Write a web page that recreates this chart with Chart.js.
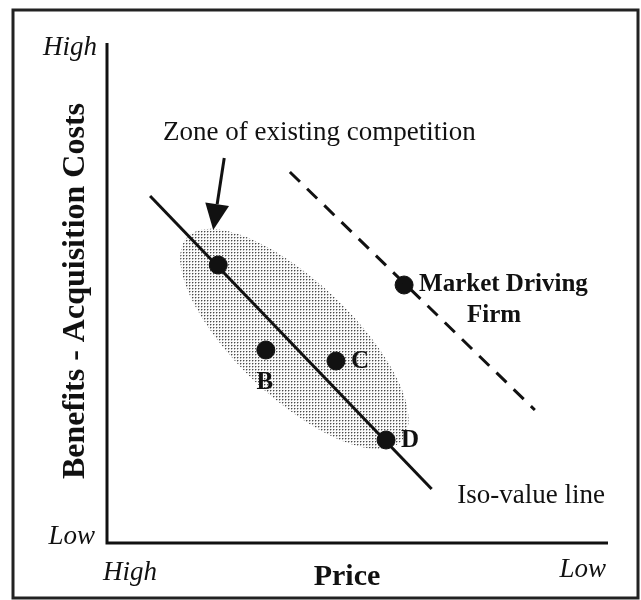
<!DOCTYPE html>
<html>
<head>
<meta charset="utf-8">
<script src="https://cdn.jsdelivr.net/npm/chart.js@4"></script>
<style>
  html, body { margin: 0; padding: 0; background: #fff; }
  #wrap { width: 641px; height: 600px; position: relative; }
</style>
</head>
<body>
<div id="wrap"><canvas id="chart"></canvas></div>
<script>
// --- Data (axis units 0..10) ---
const isoLineX = [0.86, 6.48];
const isoLineY = [6.94, 1.08];
const driverLineX = [3.65, 8.54];
const driverLineY = [7.42, 2.66];

const firmNames = ["", "B", "C", "D", "Market Driving Firm"];
const firmX = [2.22, 3.17, 4.57, 5.57, 5.93];
const firmY = [5.56, 3.86, 3.64, 2.06, 5.16];

// zone of existing competition (ellipse), centre + semi axes in axis units
const zoneCenter = [3.74, 4.08];
const zoneAxes = [2.95, 1.16];
const zoneAngle = 43.6; // degrees, clockwise on screen

// arrow pointing into the zone
const arrowX = [2.34, 2.12];
const arrowY = [7.70, 6.26];

const xTickLabels = ["High", "Low"];
const yTickLabels = ["Low", "High"];
const xTitle = "Price";
const yTitle = "Benefits - Acquisition Costs";

const SERIF = "'Liberation Serif', 'Times New Roman', serif";

// --- stipple pattern for the zone ---
function makeStipple() {
  const c = document.createElement("canvas");
  c.width = 3; c.height = 3;
  const g = c.getContext("2d");
  g.fillStyle = "#fafafa";
  g.fillRect(0, 0, 3, 3);
  g.fillStyle = "#b4b4b4";
  g.fillRect(1, 0, 1, 1);
  g.fillRect(0, 1, 1, 1);
  g.fillStyle = "#4a4a4a";
  g.fillRect(0, 0, 1, 1);
  return g.createPattern(c, "repeat");
}

// --- draws zone before datasets ---
const zonePlugin = {
  id: "zone",
  beforeDatasetsDraw(chart) {
    const { ctx, scales: { x, y } } = chart;
    const cx = x.getPixelForValue(zoneCenter[0]);
    const cy = y.getPixelForValue(zoneCenter[1]);
    const rx = x.getPixelForValue(zoneAxes[0]) - x.getPixelForValue(0);
    const ry = y.getPixelForValue(0) - y.getPixelForValue(zoneAxes[1]);
    ctx.save();
    ctx.beginPath();
    ctx.ellipse(cx, cy, rx, ry, zoneAngle * Math.PI / 180, 0, Math.PI * 2);
    ctx.fillStyle = makeStipple();
    ctx.fill();
    ctx.restore();
  }
};

// --- axes, frame, labels, arrow ---
const decorPlugin = {
  id: "decor",
  afterDatasetsDraw(chart) {
    const { ctx, chartArea: a, scales: { x, y } } = chart;
    ctx.save();

    // outer frame
    ctx.strokeStyle = "#222";
    ctx.lineWidth = 3;
    ctx.strokeRect(13, 10, 625, 588);

    // axis lines
    ctx.lineWidth = 3;
    ctx.strokeStyle = "#111";
    ctx.beginPath();
    ctx.moveTo(a.left, a.top);
    ctx.lineTo(a.left, a.bottom);
    ctx.lineTo(a.right, a.bottom);
    ctx.stroke();

    ctx.fillStyle = "#111";
    ctx.textBaseline = "middle";

    // end labels
    ctx.font = "italic 27px " + SERIF;
    ctx.textAlign = "right";
    ctx.fillText(yTickLabels[1], a.left - 10, a.top + 5);
    ctx.fillText(yTickLabels[0], a.left - 12, a.bottom - 6);
    ctx.textAlign = "left";
    ctx.fillText(xTickLabels[0], a.left - 4, a.bottom + 30);
    ctx.textAlign = "right";
    ctx.fillText(xTickLabels[1], a.right - 2, a.bottom + 27);

    // axis titles
    ctx.font = "bold 30px " + SERIF;
    ctx.textAlign = "center";
    ctx.fillText(xTitle, 347, a.bottom + 34);
    ctx.save();
    ctx.translate(76, 291);
    ctx.rotate(-Math.PI / 2);
    ctx.font = "bold 32px " + SERIF;
    ctx.fillText(yTitle, 0, 0);
    ctx.restore();

    // annotations
    ctx.font = "27px " + SERIF;
    ctx.textAlign = "left";
    ctx.fillText("Zone of existing competition", x.getPixelForValue(1.12), y.getPixelForValue(8.2));
    ctx.fillText("Iso-value line", x.getPixelForValue(6.99), y.getPixelForValue(0.94));

    // arrow
    const x0 = x.getPixelForValue(arrowX[0]), y0 = y.getPixelForValue(arrowY[0]);
    const x1 = x.getPixelForValue(arrowX[1]), y1 = y.getPixelForValue(arrowY[1]);
    const ang = Math.atan2(y1 - y0, x1 - x0);
    const head = 26, half = 12;
    const bx = x1 - head * Math.cos(ang), by = y1 - head * Math.sin(ang);
    ctx.lineWidth = 3;
    ctx.beginPath();
    ctx.moveTo(x0, y0);
    ctx.lineTo(bx, by);
    ctx.stroke();
    ctx.beginPath();
    ctx.moveTo(x1, y1);
    ctx.lineTo(bx + half * Math.sin(ang), by - half * Math.cos(ang));
    ctx.lineTo(bx - half * Math.sin(ang), by + half * Math.cos(ang));
    ctx.closePath();
    ctx.fill();

    // firm labels
    const pts = chart.getDatasetMeta(2).data;
    ctx.font = "bold 25px " + SERIF;
    pts.forEach((p, i) => {
      const name = firmNames[i];
      if (!name) return;
      if (name === "B") {
        ctx.textAlign = "center";
        ctx.fillText(name, p.x - 1, p.y + 33);
      } else if (name.startsWith("Market")) {
        ctx.textAlign = "left";
        ctx.fillText("Market Driving", p.x + 15, p.y);
        ctx.textAlign = "center";
        ctx.fillText("Firm", p.x + 90, p.y + 31);
      } else {
        ctx.textAlign = "left";
        ctx.fillText(name, p.x + 15, p.y + 1);
      }
    });

    ctx.restore();
  }
};

const toPts = (xs, ys) => xs.map((v, i) => ({ x: v, y: ys[i] }));

new Chart(document.getElementById("chart"), {
  type: "scatter",
  data: {
    datasets: [
      {
        label: "Iso-value line",
        data: toPts(isoLineX, isoLineY),
        showLine: true,
        borderColor: "#111",
        borderWidth: 3,
        pointRadius: 0
      },
      {
        label: "Market driving line",
        data: toPts(driverLineX, driverLineY),
        showLine: true,
        borderColor: "#111",
        borderWidth: 3,
        borderDash: [14, 10],
        pointRadius: 0
      },
      {
        label: "Firms",
        data: toPts(firmX, firmY),
        backgroundColor: "#111",
        borderColor: "#111",
        pointRadius: 9,
        pointHoverRadius: 9
      }
    ]
  },
  options: {
    responsive: true,
    maintainAspectRatio: false,
    animation: false,
    layout: { padding: { left: 107, right: 33, top: 43, bottom: 57 } },
    plugins: { legend: { display: false }, tooltip: { enabled: false } },
    scales: {
      x: { type: "linear", min: 0, max: 10, display: false },
      y: { type: "linear", min: 0, max: 10, display: false }
    }
  },
  plugins: [zonePlugin, decorPlugin]
});
</script>
</body>
</html>
